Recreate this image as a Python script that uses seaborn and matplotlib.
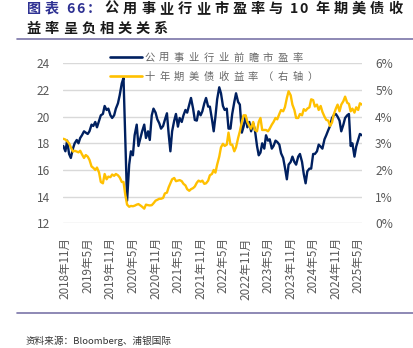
import matplotlib
matplotlib.use("Agg")
import matplotlib.pyplot as plt
from matplotlib.lines import Line2D
import pandas as pd
import seaborn as sns

# ---- data: semi-monthly observations (1st / 15th), Oct-2018 .. Jun-2025 ----
dates = pd.date_range("2018-10-15", "2025-06-01", freq="SMS")

# Utilities sector forward P/E (left axis)
pe_2018 = [17.8, 17.4, 18.2, 17.2, 16.9]
pe_2019 = [17.6, 18.0, 18.25, 18.0, 18.4, 18.6, 18.9, 18.8, 18.7, 18.9, 19.4, 19.3,
           19.6, 19.2, 19.7, 20.1, 20.2, 20.8, 20.5, 20.6, 20.1, 19.9, 20.1, 20.6]
pe_2020 = [21.0, 21.6, 22.5, 22.9, 18.0, 13.7, 16.4, 17.4, 17.1, 18.6, 19.4, 17.8,
           18.4, 18.9, 19.4, 18.4, 18.9, 18.25, 20.1, 20.6, 20.3, 19.8, 19.5, 19.1]
pe_2021 = [19.3, 19.75, 20.25, 18.7, 17.4, 18.9, 19.7, 20.2, 19.25, 19.9, 19.6, 20.1,
           20.5, 20.3, 20.9, 21.4, 20.6, 19.75, 19.7, 20.4, 20.1, 20.4, 21.0, 21.4]
pe_2022 = [20.75, 20.75, 19.8, 18.9, 20.0, 21.3, 22.2, 21.75, 20.8, 20.5, 20.6, 19.1,
           19.1, 20.2, 21.1, 21.75, 21.1, 20.9, 18.8, 19.25, 20.0, 19.2, 19.6, 18.9]
pe_2023 = [19.5, 19.0, 17.8, 17.1, 17.3, 18.0, 17.6, 18.6, 18.2, 18.3, 17.6, 17.8,
           18.2, 18.1, 17.9, 17.25, 16.9, 16.2, 15.3, 16.4, 16.6, 17.0, 16.6, 16.4]
pe_2024 = [17.0, 17.2, 16.6, 15.7, 15.0, 15.9, 16.1, 16.1, 17.2, 17.2, 17.4, 17.9,
           17.75, 17.6, 18.3, 18.6, 19.0, 19.3, 19.9, 20.1, 20.2, 20.0, 19.7, 18.9]
pe_2025 = [19.4, 19.9, 20.1, 20.2, 17.8, 18.0, 17.0, 17.75, 18.25, 18.7, 18.6]

# 10-year US Treasury yield, % (right axis)
ust_2018 = [3.17, 3.14, 3.08, 3.00, 2.85]
ust_2019 = [2.69, 2.72, 2.69, 2.66, 2.72, 2.59, 2.45, 2.56, 2.50, 2.38, 2.13, 2.08,
            2.00, 2.09, 1.90, 1.55, 1.50, 1.85, 1.65, 1.75, 1.73, 1.83, 1.78, 1.85]
ust_2020 = [1.80, 1.72, 1.55, 1.55, 1.05, 0.70, 0.62, 0.65, 0.64, 0.66, 0.70, 0.72,
            0.67, 0.62, 0.55, 0.70, 0.68, 0.67, 0.68, 0.75, 0.85, 0.88, 0.92, 0.92]
ust_2021 = [0.95, 1.12, 1.15, 1.35, 1.50, 1.65, 1.70, 1.58, 1.60, 1.62, 1.58, 1.48,
            1.42, 1.28, 1.22, 1.28, 1.32, 1.38, 1.52, 1.60, 1.56, 1.60, 1.48, 1.50]
ust_2022 = [1.60, 1.80, 1.85, 2.00, 1.90, 2.20, 2.50, 2.85, 2.98, 2.90, 2.95, 3.40,
            2.95, 2.95, 2.70, 2.85, 3.20, 3.45, 3.80, 4.05, 4.05, 3.80, 3.65, 3.55]
ust_2023 = [3.80, 3.50, 3.45, 3.80, 3.95, 3.50, 3.50, 3.50, 3.45, 3.55, 3.70, 3.80,
            3.95, 3.90, 4.10, 4.25, 4.20, 4.35, 4.70, 4.95, 4.80, 4.45, 4.25, 3.95]
ust_2024 = [3.95, 4.10, 4.05, 4.28, 4.22, 4.30, 4.35, 4.65, 4.62, 4.38, 4.45, 4.25,
            4.40, 4.18, 4.00, 3.88, 3.85, 3.65, 3.78, 4.08, 4.30, 4.45, 4.20, 4.45]
ust_2025 = [4.58, 4.75, 4.52, 4.48, 4.20, 4.30, 4.15, 4.35, 4.25, 4.50, 4.45]

pe = pe_2018 + pe_2019 + pe_2020 + pe_2021 + pe_2022 + pe_2023 + pe_2024 + pe_2025
ust = (ust_2018 + ust_2019 + ust_2020 + ust_2021 + ust_2022 + ust_2023
       + ust_2024 + ust_2025)

tick_dates = pd.date_range("2018-11-01", "2025-05-01", freq="6MS")
tick_labels = [f"{d.year}年{d.month}月" for d in tick_dates]
pe_ticks = [12, 14, 16, 18, 20, 22, 24]
ust_ticks = [0, 1, 2, 3, 4, 5, 6]

title_head = "图表 66："
title_line1 = "公用事业行业市盈率与 10 年期美债收"
title_line2 = "益率呈负相关关系"
label_pe = "公用事业行业前瞻市盈率"
label_ust = "十年期美债收益率（右轴）"
source = "资料来源：Bloomberg、浦银国际"

df = pd.DataFrame({"date": dates, "pe": pe, "ust": ust})

# ---- style ----
sns.set_theme(style="white")
CJK = ["Noto Sans CJK SC", "DejaVu Sans"]
plt.rcParams["font.family"] = CJK

NAVY = "#002060"
GOLD = "#FFC000"
GRID = "#D9D9D9"
TICK = "#595959"
RULE = "#7A74A8"

W, H = 414, 348
fig = plt.figure(figsize=(W / 100, H / 100), dpi=100)
fig.patch.set_facecolor("white")


def px(x, y):
    return x / W, 1 - y / H


L, R, T, B = 63.3, 362.0, 63.3, 223.3
ax = fig.add_axes([L / W, 1 - B / H, (R - L) / W, (B - T) / H])
ax.set_facecolor("white")

sns.lineplot(data=df, x="date", y="pe", ax=ax, color=NAVY, lw=1.7, legend=False)
ax2 = ax.twinx()
sns.lineplot(data=df, x="date", y="ust", ax=ax2, color=GOLD, lw=1.7, legend=False)

ax.set_xlim(dates[0], dates[-1])
ax.set_ylim(12, 24)
ax.set_yticks(pe_ticks)
ax.set_yticklabels([str(v) for v in pe_ticks])
ax2.set_ylim(0, 6)
ax2.set_yticks(ust_ticks)
ax2.set_yticklabels([f"{v}%" for v in ust_ticks])

ax.set_xticks(tick_dates)
ax.set_xticklabels(tick_labels, rotation=90, ha="center", va="top")

ax.grid(axis="y", color=GRID, lw=1.0)
ax.grid(axis="x", visible=False)
ax2.grid(False)
for a in (ax, ax2):
    a.set_xlabel("")
    a.set_ylabel("")
    for s in a.spines.values():
        s.set_visible(False)
ax.tick_params(axis="y", length=0, pad=9.5, labelsize=8.6, labelcolor=TICK)
ax2.tick_params(axis="y", length=0, pad=9.5, labelsize=8.6, labelcolor=TICK)
ax.tick_params(axis="x", length=0, pad=10, labelsize=8.4, labelcolor=TICK)

renderer = fig.canvas.get_renderer()


def spaced_text(x, y, s, size, pitch, color, weight="normal", gap=1.0, space=5.0):
    """Draw a string glyph by glyph with extra tracking; returns the end x (px)."""
    for ch in s:
        if ch == " ":
            x += space
            continue
        if ord(ch) >= 0x2E80:
            fig.text(*px(x + pitch / 2, y), ch, fontsize=size, color=color,
                     fontweight=weight, ha="center", va="baseline", family=CJK)
            x += pitch
        else:
            t = fig.text(*px(x + gap / 2, y), ch, fontsize=size, color=color,
                         fontweight=weight, ha="left", va="baseline", family=CJK)
            x += t.get_window_extent(renderer).width + gap
    return x


# title (two lines) and rules
xe = spaced_text(24.5, 13.0, title_head, 10.2, 18.2, "#2F3293", weight="bold")
spaced_text(xe, 13.0, title_line1, 10.2, 18.2, "#1A1A1A", weight="bold")
spaced_text(24.5, 33.0, title_line2, 10.2, 18.2, "#1A1A1A", weight="bold")
fig.add_artist(Line2D([17 / W, 1.0], [1 - 38.8 / H] * 2, color=RULE, lw=1.2,
                      transform=fig.transFigure))
fig.add_artist(Line2D([17 / W, 1.0], [1 - 313 / H] * 2, color=RULE, lw=1.2,
                      transform=fig.transFigure))

# legend
for yy, col, lab in ((57.3, NAVY, label_pe), (76.3, GOLD, label_ust)):
    fig.add_artist(Line2D([110 / W, 141.7 / W], [1 - yy / H] * 2, color=col,
                          lw=1.9, transform=fig.transFigure))
    spaced_text(142.0, yy + 3.7, lab, 7.4, 14.8, "#666666")

# source note
fig.text(*px(26, 344.0), source, fontsize=6.9, color="#333333",
         ha="left", va="baseline", family=CJK)

fig.savefig("out.png", dpi=100)
